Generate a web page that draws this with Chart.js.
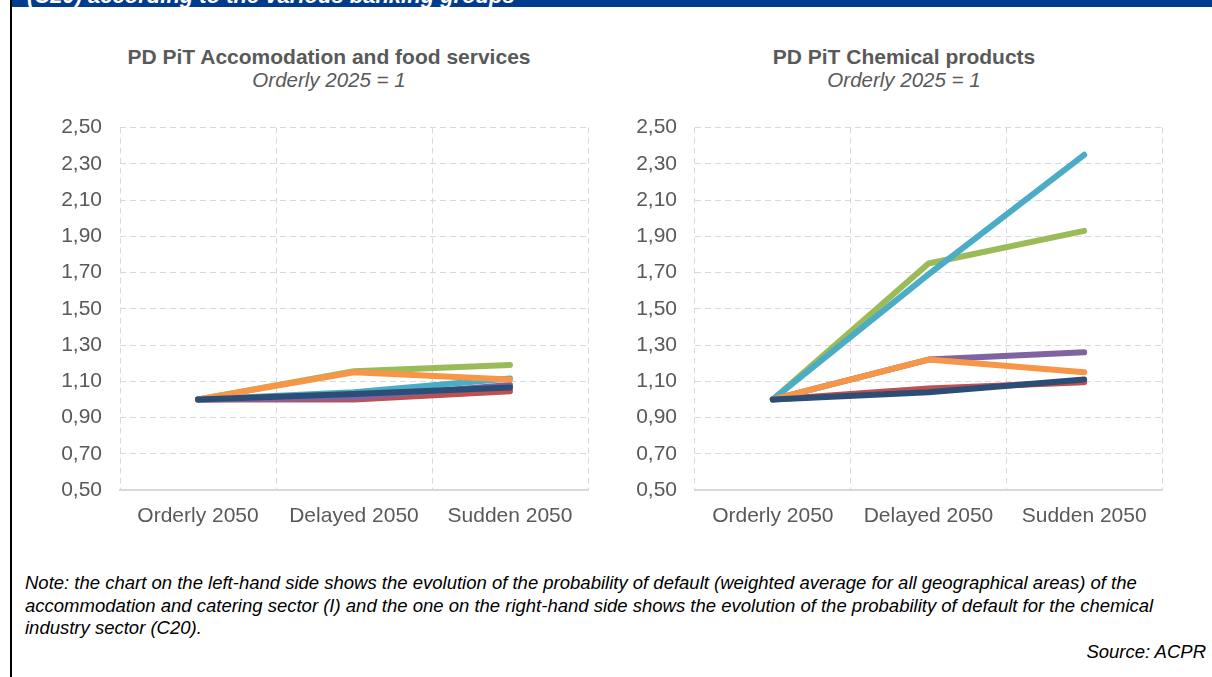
<!DOCTYPE html>
<html>
<head>
<meta charset="utf-8">
<script src="https://cdn.jsdelivr.net/npm/chart.js@4"></script>
<style>
  body { margin:0; width:1212px; height:677px; background:#fff; position:relative; overflow:hidden; font-family:"Liberation Sans", Arial, sans-serif; }
  .band { position:absolute; left:12px; top:0; width:1200px; height:7px; background:#003B8E; overflow:hidden; }
  .band span { position:absolute; left:15px; top:-17px; color:#fff; font:italic bold 22px "Liberation Sans", Arial, sans-serif; white-space:nowrap; }
  .vline { position:absolute; left:10px; top:0; width:2px; height:677px; background:#000; }
  .ttl { position:absolute; text-align:center; color:#595959; }
  .ttl b { display:block; font-size:21px; line-height:23px; }
  .ttl i { display:block; font-size:20.5px; line-height:23px; }
  .cv { position:absolute; }
  .note { position:absolute; left:25px; top:572px; width:1182px; font:italic 18.5px/22.5px "Liberation Sans", Arial, sans-serif; color:#000; }
  .src { position:absolute; right:6px; top:641px; font:italic 18.5px "Liberation Sans", Arial, sans-serif; color:#000; }
</style>
</head>
<body>
<div class="band"><span>(C20) according to the various banking groups</span></div>
<div class="vline"></div>

<div class="ttl" style="left:30px;top:45px;width:598px;"><b>PD PiT Accomodation and food services</b><i>Orderly 2025 = 1</i></div>
<div class="ttl" style="left:604px;top:45px;width:600px;"><b>PD PiT Chemical products</b><i>Orderly 2025 = 1</i></div>

<div class="cv" style="left:20px;top:97px;width:572px;height:443px;"><canvas id="accChart"></canvas></div>
<div class="cv" style="left:595px;top:97px;width:571px;height:443px;"><canvas id="chemChart"></canvas></div>

<div class="note">Note: the chart on the left-hand side shows the evolution of the probability of default (weighted average for all geographical areas) of the accommodation and catering sector (I) and the one on the right-hand side shows the evolution of the probability of default for the chemical industry sector (C20).</div>
<div class="src">Source: ACPR</div>

<script>
// 카테고리 / 축
const categories = ['Orderly 2050', 'Delayed 2050', 'Sudden 2050'];
const yTicks = [0.5, 0.7, 0.9, 1.1, 1.3, 1.5, 1.7, 1.9, 2.1, 2.3, 2.5];

// left : accommodation and food services
const accDarkBlue = [1.00, 1.03, 1.065];
const accOrange   = [1.00, 1.15, 1.11];
const accCyan     = [1.00, 1.04, 1.115];
const accGreen    = [1.00, 1.155, 1.19];
const accPurple   = [1.00, 1.01, 1.08];
const accRed      = [1.00, 1.00, 1.045];

// right : chemical products
const chemDarkBlue = [1.00, 1.04, 1.11];
const chemOrange   = [1.00, 1.22, 1.15];
const chemCyan     = [1.00, 1.69, 2.35];
const chemGreen    = [1.00, 1.75, 1.93];
const chemPurple   = [1.00, 1.22, 1.26];
const chemRed      = [1.00, 1.06, 1.095];

const colors = { darkblue:'#2C4D75', orange:'#F79646', cyan:'#4BACC6', green:'#9BBB59', purple:'#8064A2', red:'#C0504D' };

function line(data, color){
	return {
		data: data,
		borderColor: color,
		backgroundColor: color,
		borderWidth: 6,
		borderCapStyle: 'round',
		borderJoinStyle: 'round',
		pointRadius: 0,
		tension: 0,
		fill: false
	}
}

function makeChart(id, series){
	// 첫번째 dataset 이 가장 위에 그려짐
	new Chart(document.getElementById(id), {
		type: 'line',
		data: {
			labels: categories,
			datasets: [
				line(series[0], colors.darkblue),
				line(series[1], colors.orange),
				line(series[2], colors.cyan),
				line(series[3], colors.green),
				line(series[4], colors.purple),
				line(series[5], colors.red)
			]
		},
		options: {
			responsive: true,
			maintainAspectRatio: false,
			animation: false,
			layout: { padding: { top: 21, right: 4, bottom: 0, left: 0 } },
			plugins: { legend: { display: false }, tooltip: { enabled: false } },
			scales: {
				x: {
					offset: true,
					grid: { offset: true, color: '#D9D9D9', lineWidth: 1, drawTicks: false },
					border: { display: true, color: '#D9D9D9', width: 2, dash: [6, 4] },
					ticks: { color: '#595959', font: { family: 'Liberation Sans', size: 21 }, padding: 14, maxRotation: 0 },
					afterFit: (s) => { s.height = 50 }
				},
				y: {
					min: 0.5,
					max: 2.5,
					afterBuildTicks: (s) => { s.ticks = yTicks.map(v => ({ value: v })) },
					grid: { color: '#D9D9D9', lineWidth: 1, drawTicks: false },
					border: { display: false, dash: [6, 4] },
					ticks: {
						color: '#595959',
						font: { family: 'Liberation Sans', size: 21 },
						padding: 18,
						callback: (v) => v.toFixed(2).replace('.', ',')
					},
					afterFit: (s) => { s.width = 100 }
				}
			}
		}
	});
}

makeChart('accChart', [accDarkBlue, accOrange, accCyan, accGreen, accPurple, accRed]);
makeChart('chemChart', [chemDarkBlue, chemOrange, chemCyan, chemGreen, chemPurple, chemRed]);
</script>
</body>
</html>
